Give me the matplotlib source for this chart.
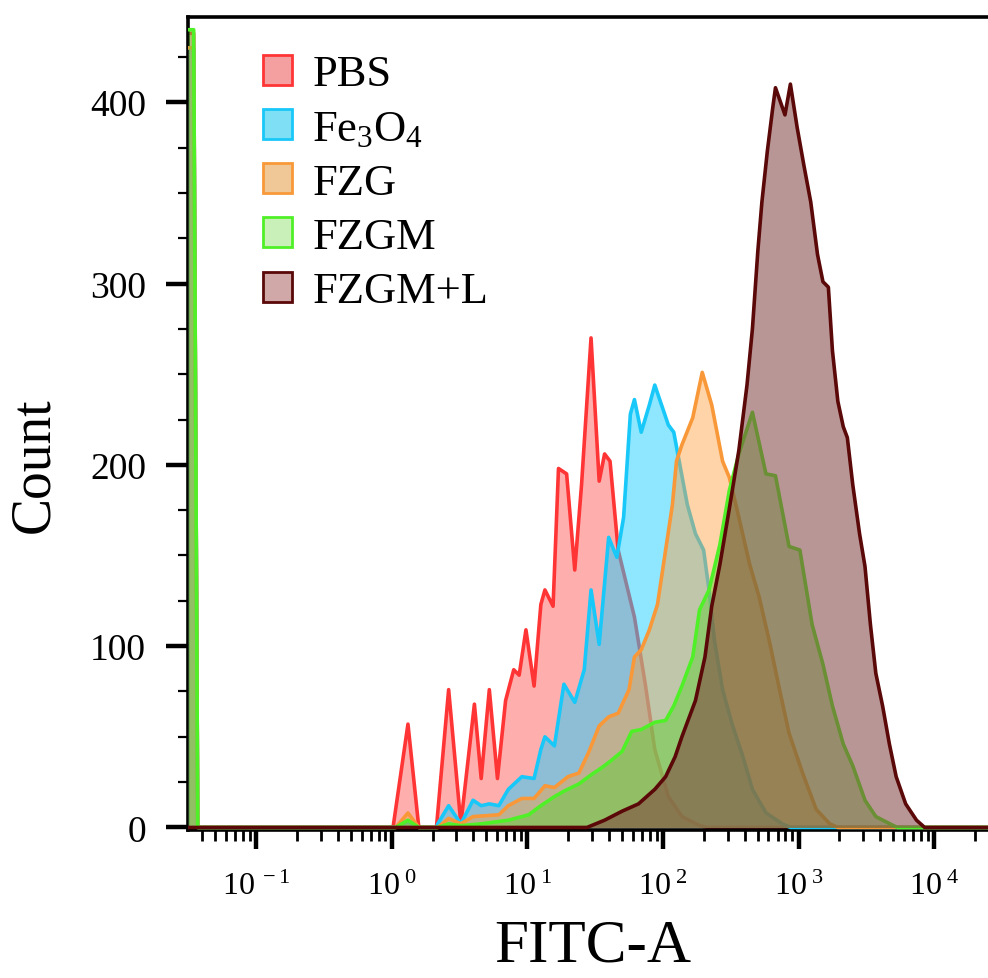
import numpy as np
import matplotlib
matplotlib.use("Agg")
import matplotlib.pyplot as plt
from matplotlib.patches import Patch
from matplotlib.ticker import LogLocator, FuncFormatter, MultipleLocator, NullFormatter

plt.rcParams['font.family'] = ['Liberation Serif', 'DejaVu Serif']
plt.rcParams['mathtext.fontset'] = 'custom'
plt.rcParams['mathtext.rm'] = 'Liberation Serif'
plt.rcParams['mathtext.it'] = 'Liberation Serif:italic'

# histogram outlines: log10(FITC-A) of each vertex and the event count there
pbs_lg = [-1.50, -1.46, -1.43, 0.01, 0.12, 0.20, 0.33, 0.42, 0.51, 0.61, 0.66, 0.72, 0.78,
          0.84, 0.90, 0.94, 0.99, 1.05, 1.10, 1.13, 1.19, 1.23, 1.29, 1.35, 1.40, 1.47,
          1.53, 1.57, 1.61, 1.67, 1.79, 1.87, 1.94, 2.04, 2.14, 2.27, 2.33, 4.50]
pbs_cnt = [438, 438, 0, 0, 57, 0, 0, 76, 2, 68, 27, 76, 27,
           70, 87, 84, 109, 78, 123, 131, 122, 198, 195, 142, 189, 270,
           191, 206, 202, 153, 116, 79, 43, 17, 6, 1, 0, 0]

fe_lg = [-1.50, -1.46, -1.43, 0.02, 0.12, 0.20, 0.33, 0.34, 0.42, 0.51, 0.60, 0.66, 0.72,
         0.79, 0.86, 0.96, 1.05, 1.10, 1.13, 1.20, 1.27, 1.35, 1.42, 1.47, 1.53, 1.60,
         1.66, 1.71, 1.76, 1.79, 1.84, 1.90, 1.94, 1.99, 2.04, 2.08, 2.12, 2.18, 2.24,
         2.30, 2.34, 2.38, 2.44, 2.51, 2.59, 2.66, 2.76, 2.88, 2.94, 4.50]
fe_cnt = [430, 430, 0, 0, 3, 0, 0, 2, 12, 2, 15, 12, 13,
          12, 21, 28, 27, 43, 50, 45, 79, 69, 87, 131, 101, 160,
          149, 171, 228, 236, 218, 233, 244, 233, 222, 218, 202, 178, 162,
          153, 131, 103, 76, 57, 39, 21, 8, 2, 0, 0]

fzg_lg = [-1.50, -1.46, -1.43, 0.03, 0.12, 0.20, 0.34, 0.42, 0.51, 0.60, 0.79, 0.86, 0.96,
          1.05, 1.13, 1.20, 1.30, 1.38, 1.45, 1.53, 1.60, 1.67, 1.75, 1.79, 1.84, 1.90,
          1.96, 2.02, 2.07, 2.10, 2.14, 2.22, 2.29, 2.36, 2.44, 2.49, 2.56, 2.64, 2.71,
          2.79, 2.86, 2.93, 3.03, 3.13, 3.23, 3.29, 4.50]
fzg_cnt = [430, 430, 0, 0, 8, 0, 0, 5, 2, 6, 7, 12, 16,
           16, 23, 22, 28, 30, 41, 56, 61, 63, 76, 94, 98, 109,
           123, 153, 178, 202, 211, 226, 251, 233, 202, 193, 171, 145, 127,
           101, 76, 52, 30, 10, 2, 0, 0]

fzgm_lg = [-1.50, -1.46, -1.43, 0.03, 0.12, 0.20, 0.34, 0.42, 0.51, 0.66, 0.86, 1.01, 1.10,
           1.20, 1.27, 1.38, 1.47, 1.55, 1.62, 1.70, 1.77, 1.84, 1.94, 2.02, 2.08, 2.14,
           2.22, 2.27, 2.34, 2.42, 2.49, 2.56, 2.66, 2.76, 2.83, 2.93, 3.01, 3.10, 3.18,
           3.25, 3.33, 3.40, 3.49, 3.57, 3.70, 3.73, 4.50]
fzgm_cnt = [440, 440, 0, 0, 4, 0, 0, 2, 1, 2, 4, 7, 12,
            17, 20, 24, 29, 33, 37, 42, 53, 54, 58, 59, 67, 78,
            94, 120, 131, 156, 186, 206, 229, 195, 194, 155, 153, 112, 90,
            67, 46, 34, 15, 6, 1, 0, 0]

fzgml_lg = [-1.50, 1.44, 1.57, 1.70, 1.82, 1.94, 2.02, 2.09, 2.14, 2.24, 2.31, 2.36, 2.42,
            2.49, 2.56, 2.62, 2.66, 2.70, 2.73, 2.77, 2.81, 2.83, 2.90, 2.94, 2.99, 3.04,
            3.09, 3.14, 3.18, 3.22, 3.25, 3.29, 3.33, 3.36, 3.40, 3.45, 3.49, 3.53, 3.57,
            3.62, 3.67, 3.72, 3.79, 3.87, 3.93, 4.50]
fzgml_cnt = [0, 0, 4, 9, 13, 21, 28, 39, 50, 70, 94, 122, 145,
             176, 208, 244, 275, 318, 345, 373, 397, 408, 393, 410, 386, 365,
             345, 316, 301, 298, 263, 235, 221, 215, 189, 162, 144, 112, 85,
             67, 46, 28, 13, 4, 0, 0]

labels = ['PBS', r'Fe$_3$O$_4$', 'FZG', 'FZGM', 'FZGM+L']
line_colors = ['#ff3535', '#18c8f8', '#f89838', '#50f028', '#5a0808']
fill_colors = ['#ff4d4d', '#1ecfff', '#ffa040', '#5ad030', '#804040']
fill_alpha = [0.45, 0.5, 0.45, 0.45, 0.55]
legend_fill = ['#f4a0a0', '#7fe0f5', '#f0c898', '#c8f0b8', '#d0a8a8']
series = [(pbs_lg, pbs_cnt), (fe_lg, fe_cnt), (fzg_lg, fzg_cnt),
          (fzgm_lg, fzgm_cnt), (fzgml_lg, fzgml_cnt)]

fig = plt.figure(figsize=(9.88, 9.79), dpi=100)
ax = fig.add_axes([0.19, 0.151, 0.82, 0.8306])

for i, (lg, cnt) in enumerate(series):
    x = 10 ** np.array(lg)
    y = np.array(cnt)
    ax.fill_between(x, 0, y, color=fill_colors[i], alpha=fill_alpha[i], lw=0, zorder=2 + i)
    ax.plot(x, y, color=line_colors[i], lw=2.6, zorder=2 + i)

ax.set_xscale('log')
ax.set_xlim(10 ** -1.504, 10 ** 4.47)
ax.set_ylim(-1.5, 447)

ax.xaxis.set_major_locator(LogLocator(base=10, numticks=20))
ax.xaxis.set_minor_locator(LogLocator(base=10, subs=np.arange(2, 10), numticks=100))
ax.xaxis.set_minor_formatter(NullFormatter())
ax.xaxis.set_major_formatter(FuncFormatter(
    lambda v, p: r'$\mathregular{10^{\ %d}}$' % int(round(np.log10(v)))))
ax.yaxis.set_major_locator(MultipleLocator(100))
ax.yaxis.set_minor_locator(MultipleLocator(25))

ax.tick_params(axis='both', which='major', direction='out', width=3.2)
ax.tick_params(axis='x', which='major', length=14, pad=16, labelsize=23)
ax.tick_params(axis='x', which='minor', direction='out', length=8, width=2)
ax.tick_params(axis='y', which='major', length=16, pad=14, labelsize=27)
ax.tick_params(axis='y', which='minor', direction='out', length=7, width=1.6)

for s in ['left', 'bottom', 'top']:
    ax.spines[s].set_linewidth(2.6)
ax.spines['right'].set_visible(False)

ax.set_xlabel('FITC-A', fontsize=44, labelpad=12)
ax.set_ylabel('Count', fontsize=40)
ax.yaxis.set_label_coords(-0.157, 0.45)

handles = [Patch(facecolor=legend_fill[i], edgecolor=line_colors[i], lw=2)
           for i in range(5)]
ax.legend(handles, labels, loc='upper left', bbox_to_anchor=(0.071, 0.976),
          frameon=False, fontsize=32, handlelength=0.66, handleheight=0.66,
          handletextpad=0.45, labelspacing=0.32, borderaxespad=0)

fig.savefig('out.png', dpi=100)
